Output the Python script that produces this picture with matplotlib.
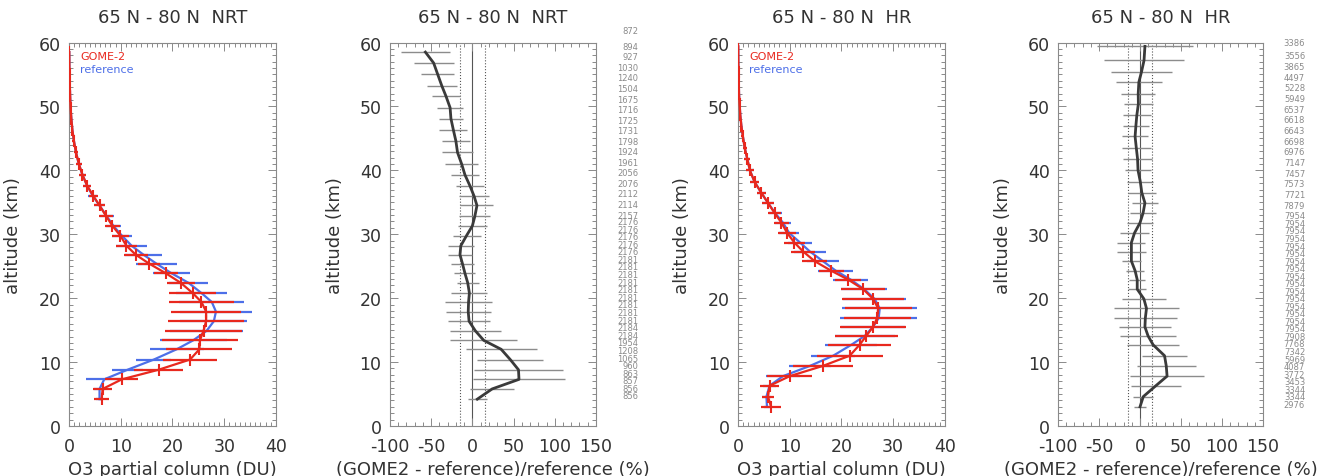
import numpy as np
import matplotlib
matplotlib.use('Agg')
import matplotlib.pyplot as plt
from matplotlib.ticker import MultipleLocator

plt.rcParams['axes.unicode_minus'] = False

# layer altitudes (km)
alt_nrt = [58.5, 56.8, 55.0, 53.2, 51.6, 49.8, 48.1, 46.3, 44.6, 42.8, 41.0, 39.3,
           37.6, 36.0, 34.5, 32.8, 31.3, 29.8, 28.2, 26.8, 25.4, 23.9, 22.4, 20.8,
           19.4, 17.9, 16.4, 14.9, 13.4, 12.0, 10.4, 8.8, 7.3, 5.8, 4.2]
alt_hr = [59.4, 57.2, 55.4, 53.8, 52.0, 50.4, 48.6, 47.0, 45.3, 43.5, 41.8, 40.0,
          38.2, 36.5, 34.9, 33.3, 31.8, 30.2, 28.7, 27.3, 25.8, 24.3, 22.9, 21.4,
          19.9, 18.4, 16.9, 15.5, 14.1, 12.7, 11.0, 9.4, 7.8, 6.3, 4.6, 3.0]

# O3 partial columns (DU), NRT
gome_nrt = [0.05, 0.07, 0.1, 0.15, 0.22, 0.3, 0.45, 0.65, 0.95, 1.35, 1.9, 2.6,
            3.5, 4.7, 5.9, 7.2, 8.4, 9.9, 11.1, 12.9, 15.5, 18.7, 21.6, 23.9,
            25.6, 26.5, 26.5, 26.0, 25.3, 25.2, 23.4, 17.3, 10.2, 6.5, 6.3]
gome_nrt_err = [0.02, 0.03, 0.04, 0.05, 0.07, 0.1, 0.15, 0.2, 0.3, 0.45, 0.6, 0.7,
                0.8, 0.9, 1.1, 1.35, 1.45, 1.6, 2.0, 2.3, 2.1, 2.3, 2.7, 4.5,
                6.2, 6.7, 7.3, 7.4, 7.4, 6.4, 5.3, 4.8, 3.2, 1.9, 1.4]
ref_nrt = [0.05, 0.07, 0.1, 0.15, 0.22, 0.3, 0.45, 0.65, 0.95, 1.35, 1.9, 2.6,
           3.5, 4.6, 5.9, 7.3, 8.6, 10.2, 12.1, 14.4, 16.9, 19.8, 23.1, 25.6,
           27.6, 28.4, 28.0, 26.6, 24.0, 20.8, 16.4, 11.3, 6.8, 5.9, 5.9]
ref_nrt_err = [0.02, 0.03, 0.04, 0.05, 0.07, 0.1, 0.15, 0.2, 0.3, 0.45, 0.6, 0.7,
               0.8, 0.9, 1.1, 1.3, 1.5, 1.9, 3.0, 3.5, 3.9, 3.5, 3.7, 5.0,
               6.3, 6.9, 6.5, 7.0, 6.5, 5.2, 3.4, 3.0, 3.5, 1.1, 0.6]

# O3 partial columns (DU), HR
gome_hr = [0.05, 0.07, 0.1, 0.15, 0.2, 0.3, 0.45, 0.65, 0.95, 1.3, 1.8, 2.3,
           3.2, 4.5, 5.8, 7.1, 8.4, 9.5, 10.9, 12.6, 14.8, 18.0, 21.3, 24.2,
           26.1, 27.1, 26.9, 26.1, 24.8, 23.5, 21.6, 16.4, 10.0, 6.1, 5.8, 6.4]
gome_hr_err = [0.02, 0.03, 0.04, 0.05, 0.07, 0.1, 0.15, 0.2, 0.3, 0.4, 0.55, 0.7,
               0.8, 0.9, 1.1, 1.3, 1.5, 1.8, 2.1, 2.3, 2.5, 2.4, 2.5, 4.2,
               5.9, 6.5, 6.5, 6.3, 6.1, 6.1, 6.4, 5.8, 4.4, 1.8, 1.2, 1.9]
ref_hr = [0.05, 0.07, 0.1, 0.15, 0.2, 0.3, 0.45, 0.65, 0.95, 1.3, 1.8, 2.3,
          3.2, 4.5, 5.8, 7.2, 8.7, 9.9, 12.0, 13.9, 16.4, 18.9, 21.8, 24.4,
          26.4, 27.4, 27.2, 26.1, 24.5, 21.9, 18.4, 13.9, 8.7, 6.1, 5.5, 5.6]
ref_hr_err = [0.02, 0.03, 0.04, 0.05, 0.07, 0.1, 0.15, 0.2, 0.3, 0.4, 0.55, 0.7,
              0.8, 0.9, 1.1, 1.3, 1.5, 1.9, 2.3, 3.1, 3.1, 3.4, 3.4, 4.5,
              6.1, 7.2, 7.5, 6.1, 5.8, 5.0, 4.2, 4.0, 3.2, 1.3, 0.8, 0.6]

# relative differences (%)
diff_nrt = [-57, -47, -42, -37, -32, -27, -26, -23, -20, -18, -13, -9, -3, 2, 5.6, 3, 0,
            -7, -14, -15, -12, -9, -5.6, -3.6, -4.6, -5, -4, 3.6, 13.8, 35, 46, 56, 56.6, 24, 6]
diff_nrt_err = [30, 24.3, 20, 18, 17, 16, 15, 17, 17, 19, 19.6, 17, 17, 18, 20, 19, 18,
                17, 15.4, 15, 13.4, 12.8, 13.5, 21.8, 28.5, 27.2, 25.5, 30.6, 40.8, 43, 40,
                54.4, 55.4, 26.3, 11.7]
diff_hr = [6, 4.9, 1.8, -1.4, -2.2, -2, -3.9, -5, -6, -4.5, -3, -2.4, 0.4, 2.2, 6, 3.7,
           0, -6.7, -10.5, -10.5, -10.5, -6, -3.4, -3.4, 4.7, 7.9, 6.5, 6, 9.8, 16,
           29.9, 32, 33, 19.3, 4, 0]
diff_hr_err = [59, 48.8, 37.6, 27.9, 20.5, 17.5, 17.3, 16, 16.3, 17.9, 17.3, 15.9, 15.9,
               17.3, 16.3, 15.9, 16.3, 17.7, 17, 17.9, 11.8, 11, 9.6, 10.8, 27, 39.6,
               38.2, 31.7, 34.1, 31.7, 27.8, 36, 45, 30.7, 12.2, 7.3]

# number of collocations per level
n_nrt = [872, 894, 927, 1030, 1240, 1504, 1675, 1716, 1725, 1731, 1798, 1924, 1961,
         2056, 2076, 2112, 2114, 2157, 2176, 2176, 2176, 2176, 2176, 2181, 2181, 2181,
         2181, 2181, 2181, 2181, 2181, 2181, 2184, 2184, 1954, 1208, 1065, 960, 863,
         857, 856, 856]
n_hr = [3386, 3556, 3865, 4497, 5228, 5949, 6537, 6618, 6643, 6698, 6976, 7147, 7457,
        7573, 7721, 7879, 7954] + [7954] * 15 + [7908, 7768, 7342, 5969, 4087, 3772,
                                                 3453, 3344, 3344, 2976]

RED = '#e8281e'
BLUE = '#4d6fe8'
TXT = '#333333'
FRAME = '#8a8a8a'


def style_axes(ax, xlim, xmajor, xminor):
    ax.set_xlim(*xlim)
    ax.set_ylim(0, 60)
    ax.xaxis.set_major_locator(MultipleLocator(xmajor))
    ax.xaxis.set_minor_locator(MultipleLocator(xminor))
    ax.yaxis.set_major_locator(MultipleLocator(10))
    ax.yaxis.set_minor_locator(MultipleLocator(1))
    ax.tick_params(which='both', direction='in', top=True, right=True,
                   colors=FRAME, labelcolor=TXT, labelsize=12.5, width=0.7)
    ax.tick_params(which='major', length=6)
    ax.tick_params(axis='x', which='major', pad=8)
    ax.tick_params(axis='y', which='major', pad=6)
    ax.tick_params(which='minor', length=3)
    for s in ax.spines.values():
        s.set_color(FRAME)
        s.set_linewidth(0.8)
    ax.set_ylabel('altitude (km)', fontsize=13, color=TXT)
    ax.yaxis.set_label_coords(-0.225, 0.5)
    ax.xaxis.set_label_coords(0.5, -0.088)


def profile_panel(ax, alt, gome, gome_err, ref, ref_err, title):
    ax.errorbar(ref, alt, xerr=ref_err, fmt='-', color=BLUE, lw=1.6,
                elinewidth=1.6, capsize=0, zorder=2)
    ax.errorbar(gome, alt, xerr=gome_err, fmt='-', color=RED, lw=1.6,
                elinewidth=1.6, capsize=0, marker='|', markersize=8, mew=1.5, zorder=3)
    style_axes(ax, (0, 40), 10, 1)
    ax.set_title(title, fontsize=13, color=TXT, pad=15)
    ax.set_xlabel('O3 partial column (DU)', fontsize=13, color=TXT)
    ax.text(0.055, 0.965, 'GOME-2', color=RED, fontsize=8, transform=ax.transAxes,
            va='center')
    ax.text(0.055, 0.93, 'reference', color=BLUE, fontsize=8, transform=ax.transAxes,
            va='center')


def diff_panel(ax, alt, diff, err, counts, title, ys):
    ax.axvline(0, color='#555555', lw=0.8, zorder=1)
    ax.axvline(-15, color='#555555', lw=0.8, ls=':', zorder=1)
    ax.axvline(15, color='#555555', lw=0.8, ls=':', zorder=1)
    ax.errorbar(diff, alt, xerr=err, fmt='none', ecolor='#8c8c8c', elinewidth=1.0,
                capsize=0, zorder=2)
    ax.plot(diff, alt, color='#3a3a3a', lw=2.0, zorder=3)
    style_axes(ax, (-100, 150), 50, 10)
    ax.set_title(title, fontsize=13, color=TXT, pad=15)
    ax.set_xlabel('(GOME2 - reference)/reference (%)', fontsize=13, color=TXT)
    for n, y in zip(counts, ys):
        ax.text(1.205, y, str(n), transform=ax.get_yaxis_transform(), ha='right',
                va='center', fontsize=6, color='#8a8a8a', clip_on=False)


fig = plt.figure(figsize=(13.35, 4.77), dpi=100)
bottom, height, width = 0.1048, 0.804, 0.155
ax1 = fig.add_axes([0.0517, bottom, width, height])
ax2 = fig.add_axes([0.2921, bottom, 0.1543, height])
ax3 = fig.add_axes([0.5528, bottom, width, height])
ax4 = fig.add_axes([0.7925, bottom, 0.1536, height])

profile_panel(ax1, alt_nrt, gome_nrt, gome_nrt_err, ref_nrt, ref_nrt_err,
              '65 N - 80 N  NRT')
profile_panel(ax3, alt_hr, gome_hr, gome_hr_err, ref_hr, ref_hr_err,
              '65 N - 80 N  HR')

# count column positions: one top entry, then two evenly packed groups
ys_nrt = np.concatenate([[61.9], np.linspace(59.4, 33.0, 17),
                         np.linspace(32.0, 4.7, len(n_nrt) - 18)])
ys_hr = np.concatenate([[60.0], np.linspace(57.9, 32.9, 16),
                        np.linspace(31.7, 3.4, len(n_hr) - 17)])
diff_panel(ax2, alt_nrt, diff_nrt, diff_nrt_err, n_nrt, '65 N - 80 N  NRT', ys_nrt)
diff_panel(ax4, alt_hr, diff_hr, diff_hr_err, n_hr, '65 N - 80 N  HR', ys_hr)

fig.savefig('out.png', dpi=100)
